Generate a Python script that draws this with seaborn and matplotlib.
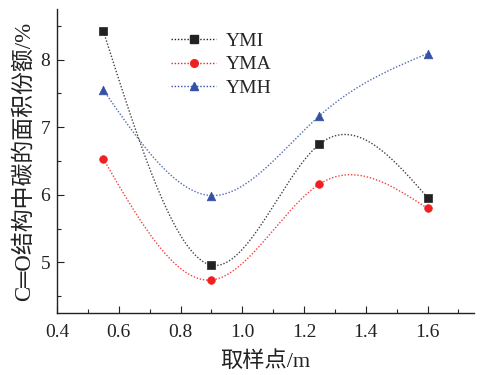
import matplotlib
matplotlib.use('Agg')
import matplotlib.pyplot as plt
from matplotlib.lines import Line2D
from matplotlib.ticker import MultipleLocator
import pandas as pd
import numpy as np
import seaborn as sns

x = [0.55, 0.90, 1.25, 1.60]
ymi = [8.42, 4.96, 6.75, 5.96]
yma = [6.53, 4.74, 6.16, 5.80]
ymh = [7.55, 5.99, 7.17, 8.09]
labels = ['YMI', 'YMA', 'YMH']


def natural_spline(xs, ys, num=200):
    # natural cubic spline through the points, used only to draw the smooth connecting line
    xs = np.asarray(xs, float)
    ys = np.asarray(ys, float)
    n = len(xs)
    h = np.diff(xs)
    A = np.zeros((n, n))
    b = np.zeros(n)
    A[0, 0] = A[-1, -1] = 1
    for i in range(1, n - 1):
        A[i, i - 1] = h[i - 1]
        A[i, i] = 2 * (h[i - 1] + h[i])
        A[i, i + 1] = h[i]
        b[i] = 6 * ((ys[i + 1] - ys[i]) / h[i] - (ys[i] - ys[i - 1]) / h[i - 1])
    M = np.linalg.solve(A, b)
    xx = np.linspace(xs[0], xs[-1], num)
    k = np.clip(np.searchsorted(xs, xx) - 1, 0, n - 2)
    t1 = xs[k + 1] - xx
    t0 = xx - xs[k]
    hk = h[k]
    yy = (M[k] * t1**3 / (6 * hk) + M[k + 1] * t0**3 / (6 * hk)
          + (ys[k] / hk - M[k] * hk / 6) * t1 + (ys[k + 1] / hk - M[k + 1] * hk / 6) * t0)
    return xx, yy


sns.set_style('ticks')
plt.rcParams['font.family'] = ['Liberation Serif', 'DejaVu Sans', 'Noto Sans CJK SC']
plt.rcParams['xtick.direction'] = 'in'
plt.rcParams['ytick.direction'] = 'in'

fig = plt.figure(figsize=(4.84, 3.75), dpi=100)
ax = fig.add_axes([0.118, 0.165, 0.861, 0.811])

styles = [
    dict(color='#222222', marker='s', ms=5.2),
    dict(color='#f02020', marker='o', ms=5.5),
    dict(color='#3550a8', marker='^', ms=6.2),
]

handles = []
for lab, ys, st in zip(labels, [ymi, yma, ymh], styles):
    xx, yy = natural_spline(x, ys)
    curve = pd.DataFrame({'x': xx, 'y': yy})
    pts = pd.DataFrame({'x': x, 'y': ys})
    sns.lineplot(data=curve, x='x', y='y', ax=ax, color=st['color'], lw=1.0, alpha=0.85,
                 linestyle=(0, (1, 1.3)), legend=False, sort=False)
    sns.scatterplot(data=pts, x='x', y='y', ax=ax, color=st['color'], marker=st['marker'],
                    s=st['ms']**2, edgecolor=st['color'], linewidth=0.5, legend=False, zorder=3)
    handles.append(Line2D([0], [0], color=st['color'], lw=1.0, linestyle=(0, (1, 1.3)),
                          marker=st['marker'], ms=st['ms'], mec=st['color'], mfc=st['color']))

ax.set_xlim(0.4, 1.75)
ax.set_ylim(4.25, 8.75)
ax.xaxis.set_major_locator(MultipleLocator(0.2))
ax.xaxis.set_minor_locator(MultipleLocator(0.1))
ax.yaxis.set_major_locator(MultipleLocator(1))
ax.yaxis.set_minor_locator(MultipleLocator(0.5))
ax.tick_params(which='major', length=5, width=0.8, labelsize=14, colors='#222222', pad=5)
ax.tick_params(axis='x', which='major', pad=8)
ax.tick_params(which='minor', length=3, width=0.8)
ax.set_xticks([0.4, 0.6, 0.8, 1.0, 1.2, 1.4, 1.6])
ax.set_xticklabels(['0.4', '0.6', '0.8', '1.0', '1.2', '1.4', '1.6'])
for sp in ['top', 'right']:
    ax.spines[sp].set_visible(False)
for sp in ['left', 'bottom']:
    ax.spines[sp].set_linewidth(1.0)
    ax.spines[sp].set_color('#222222')

ax.set_xlabel('取样点/m', fontsize=16, color='#222222', labelpad=7)
ax.set_ylabel('C═O结构中碳的面积份额/%', fontsize=16.5, color='#222222', labelpad=4)

ax.legend(handles, labels, loc='upper left', bbox_to_anchor=(0.255, 0.95), frameon=False,
          fontsize=14, handlelength=2.3, handletextpad=0.5, labelspacing=0.32,
          borderaxespad=0)

fig.savefig('out.png', dpi=100)
